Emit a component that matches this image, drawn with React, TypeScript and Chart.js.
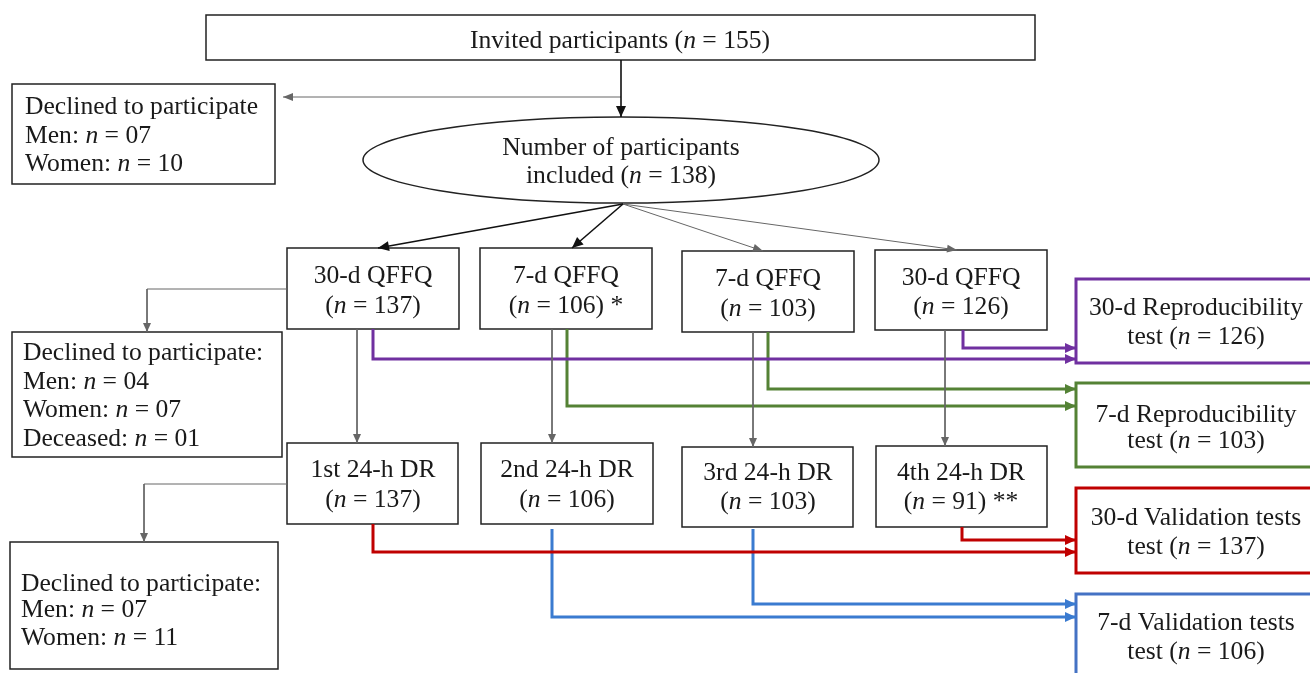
import React, { useEffect, useRef } from "react";
import { Chart, registerables } from "chart.js";

Chart.register(...registerables);

// ---- Text of each node ("_n_" marks an italic n) ----
const nodeLabels: string[][] = [
  ["Invited participants (_n_ = 155)"],
  ["Declined to participate", "Men: _n_ = 07", "Women: _n_ = 10"],
  ["Number of participants", "included (_n_ = 138)"],
  ["30-d QFFQ", "(_n_ = 137)"],
  ["7-d QFFQ", "(_n_ = 106) *"],
  ["7-d QFFQ", "(_n_ = 103)"],
  ["30-d QFFQ", "(_n_ = 126)"],
  ["Declined to participate:", "Men: _n_ = 04", "Women: _n_ = 07", "Deceased: _n_ = 01"],
  ["1st 24-h DR", "(_n_ = 137)"],
  ["2nd 24-h DR", "(_n_ = 106)"],
  ["3rd 24-h DR", "(_n_ = 103)"],
  ["4th 24-h DR", "(_n_ = 91) **"],
  ["Declined to participate:", "Men: _n_ = 07", "Women: _n_ = 11"],
  ["30-d Reproducibility", "test (_n_ = 126)"],
  ["7-d Reproducibility", "test (_n_ = 103)"],
  ["30-d Validation tests", "test (_n_ = 137)"],
  ["7-d Validation tests", "test (_n_ = 106)"],
];

// ---- Layout of nodes (diagram units on the x/y scales) ----
const nodeLeft = [206, 12, 363, 287, 480, 682, 875, 12, 287, 481, 682, 876, 10, 1076, 1076, 1076, 1076];
const nodeTop = [15, 84, 117, 248, 248, 251, 250, 332, 443, 443, 447, 446, 542, 279, 383, 488, 594];
const nodeRight = [1035, 275, 879, 459, 652, 854, 1047, 282, 458, 653, 853, 1047, 278, 1318, 1318, 1318, 1318];
const nodeBottom = [60, 184, 203, 329, 329, 332, 330, 457, 524, 524, 527, 527, 669, 363, 467, 573, 690];
const nodeShape = ["rect", "rect", "ellipse", "rect", "rect", "rect", "rect", "rect", "rect", "rect", "rect", "rect", "rect", "rect", "rect", "rect", "rect"];
const nodeStroke = ["#222", "#222", "#222", "#222", "#222", "#222", "#222", "#222", "#222", "#222", "#222", "#222", "#222", "#7030A0", "#548235", "#C00000", "#4472C4"];
const nodeStrokeWidth = [1.5, 1.5, 1.5, 1.5, 1.5, 1.5, 1.5, 1.5, 1.5, 1.5, 1.5, 1.5, 1.5, 3, 3, 3, 3];
const textAlign = ["center", "left", "center", "center", "center", "center", "center", "left", "center", "center", "center", "center", "left", "center", "center", "center", "center"];
const textX = [620, 25, 621, 373, 566, 768, 961, 23, 373, 567, 768, 961, 21, 1196, 1196, 1196, 1196];
const textBaselines: number[][] = [
  [48],
  [114, 143, 171],
  [155, 183],
  [283, 313],
  [283, 313],
  [286, 316],
  [285, 314],
  [360, 389, 417, 446],
  [477, 507],
  [477, 507],
  [480, 509],
  [480, 509],
  [591, 617, 645],
  [315, 344],
  [422, 448],
  [525, 554],
  [630, 659],
];

// ---- Connectors (polylines ending in an arrowhead) ----
const connectorPaths: number[][][] = [
  [[621, 60], [621, 117]],
  [[621, 97], [283, 97]],
  [[623, 204], [378, 248]],
  [[623, 204], [572, 248]],
  [[623, 204], [763, 251]],
  [[623, 204], [957, 250]],
  [[287, 289], [147, 289], [147, 332]],
  [[357, 329], [357, 443]],
  [[552, 329], [552, 443]],
  [[753, 332], [753, 447]],
  [[945, 330], [945, 446]],
  [[287, 484], [144, 484], [144, 542]],
  [[373, 329], [373, 359], [1076, 359]],
  [[963, 330], [963, 348], [1076, 348]],
  [[567, 329], [567, 406], [1076, 406]],
  [[768, 332], [768, 389], [1076, 389]],
  [[373, 524], [373, 552], [1076, 552]],
  [[962, 527], [962, 540], [1076, 540]],
  [[552, 529], [552, 617], [1076, 617]],
  [[753, 529], [753, 604], [1076, 604]],
];
const connectorColor = [
  "#111", "#666", "#111", "#111", "#666", "#666", "#666", "#666", "#666", "#666", "#666", "#666",
  "#7030A0", "#7030A0", "#548235", "#548235", "#C00000", "#C00000", "#3A7BD0", "#3A7BD0",
];
const connectorWidth = [1.6, 1, 1.6, 1.6, 1, 1, 1, 1, 1, 1, 1, 1, 3, 3, 3, 3, 3, 3, 3, 3];
const arrowLength = [11, 10, 11, 11, 10, 10, 9, 9, 9, 9, 9, 9, 11, 11, 11, 11, 11, 11, 11, 11];
const arrowWidth = [10, 8, 10, 10, 8, 8, 8, 8, 8, 8, 8, 8, 10, 10, 10, 10, 10, 10, 10, 10];

const FONT_FAMILY = "'Liberation Serif', 'DejaVu Serif', serif";
const FONT_SIZE = 25.6;

function drawRich(ctx: CanvasRenderingContext2D, text: string, x: number, y: number, align: string) {
  const parts = text.split(/(_n_)/).filter((p) => p.length > 0);
  const segs = parts.map((p) => (p === "_n_" ? { t: "n", it: true } : { t: p, it: false }));
  const fontFor = (it: boolean) => `${it ? "italic " : ""}${FONT_SIZE}px ${FONT_FAMILY}`;
  let total = 0;
  const widths = segs.map((s) => {
    ctx.font = fontFor(s.it);
    const w = ctx.measureText(s.t).width;
    total += w;
    return w;
  });
  let cx = align === "center" ? x - total / 2 : x;
  ctx.textAlign = "left";
  ctx.textBaseline = "alphabetic";
  segs.forEach((s, i) => {
    ctx.font = fontFor(s.it);
    ctx.fillText(s.t, cx, y);
    cx += widths[i];
  });
}

const flowPlugin = {
  id: "flowPlugin",
  beforeDatasetsDraw(chart: any) {
    const { ctx } = chart;
    const sx = chart.scales.x;
    const sy = chart.scales.y;
    ctx.save();
    nodeLabels.forEach((_, i) => {
      const x0 = sx.getPixelForValue(nodeLeft[i]);
      const x1 = sx.getPixelForValue(nodeRight[i]);
      const y0 = sy.getPixelForValue(nodeTop[i]);
      const y1 = sy.getPixelForValue(nodeBottom[i]);
      ctx.lineWidth = nodeStrokeWidth[i];
      ctx.strokeStyle = nodeStroke[i];
      ctx.fillStyle = "#ffffff";
      ctx.beginPath();
      if (nodeShape[i] === "ellipse") {
        ctx.ellipse((x0 + x1) / 2, (y0 + y1) / 2, (x1 - x0) / 2, (y1 - y0) / 2, 0, 0, Math.PI * 2);
      } else {
        ctx.rect(x0, y0, x1 - x0, y1 - y0);
      }
      ctx.fill();
      ctx.stroke();
    });
    ctx.restore();
  },
  afterDatasetsDraw(chart: any) {
    const { ctx } = chart;
    const sx = chart.scales.x;
    const sy = chart.scales.y;
    ctx.save();
    // arrowheads
    connectorPaths.forEach((path, i) => {
      const n = path.length;
      const ax = sx.getPixelForValue(path[n - 2][0]);
      const ay = sy.getPixelForValue(path[n - 2][1]);
      const bx = sx.getPixelForValue(path[n - 1][0]);
      const by = sy.getPixelForValue(path[n - 1][1]);
      const ang = Math.atan2(by - ay, bx - ax);
      const L = arrowLength[i];
      const W = arrowWidth[i] / 2;
      const cos = Math.cos(ang);
      const sin = Math.sin(ang);
      ctx.fillStyle = connectorColor[i];
      ctx.beginPath();
      ctx.moveTo(bx, by);
      ctx.lineTo(bx - L * cos - W * sin, by - L * sin + W * cos);
      ctx.lineTo(bx - L * cos + W * sin, by - L * sin - W * cos);
      ctx.closePath();
      ctx.fill();
    });
    // texts
    ctx.fillStyle = "#1a1a1a";
    nodeLabels.forEach((lines, i) => {
      lines.forEach((line, j) => {
        const x = sx.getPixelForValue(textX[i]);
        const y = sy.getPixelForValue(textBaselines[i][j]);
        drawRich(ctx, line, x, y, textAlign[i]);
      });
    });
    ctx.restore();
  },
};

export default function App() {
  const canvasRef = useRef<HTMLCanvasElement | null>(null);

  useEffect(() => {
    if (!canvasRef.current) return;
    const datasets = connectorPaths.map((path, i) => ({
      type: "line" as const,
      data: path.map(([x, y]) => ({ x, y })),
      borderColor: connectorColor[i],
      borderWidth: connectorWidth[i],
      pointRadius: 0,
      showLine: true,
      fill: false,
      tension: 0,
      borderJoinStyle: "miter" as const,
      borderCapStyle: "butt" as const,
      clip: false as any,
    }));
    const chart = new Chart(canvasRef.current, {
      type: "scatter",
      data: { datasets },
      options: {
        animation: false,
        responsive: true,
        maintainAspectRatio: false,
        events: [],
        layout: { padding: 0 },
        plugins: {
          legend: { display: false },
          tooltip: { enabled: false },
        },
        scales: {
          x: { type: "linear", min: 0, max: 1310, display: false },
          y: { type: "linear", min: 0, max: 673, reverse: true, display: false },
        },
      },
      plugins: [flowPlugin],
    });
    return () => chart.destroy();
  }, []);

  return (
    <div style={{ position: "absolute", left: 0, top: 0, width: 1310, height: 673, background: "#fff" }}>
      <canvas ref={canvasRef} />
    </div>
  );
}
